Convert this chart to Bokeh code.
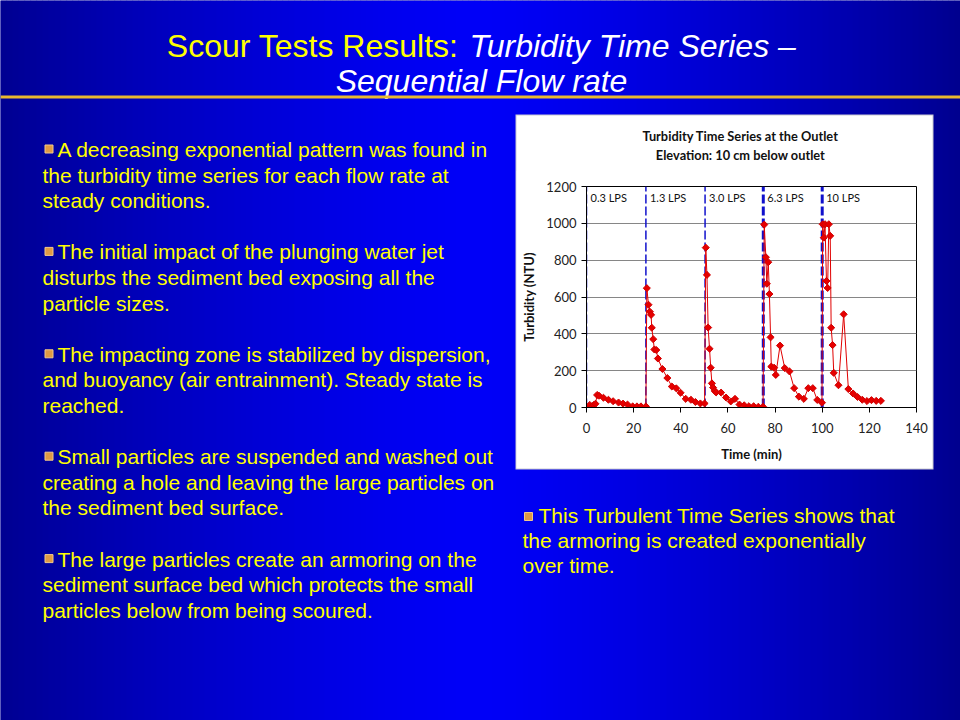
import numpy as np
from bokeh.plotting import figure
from bokeh.models import Range1d
from bokeh.embed import file_html
from bokeh.resources import INLINE
from bokeh.core.properties import value

# ---------------- data ----------------
time_min = [0, 1.4, 2.4, 3.1, 3.8, 4.5, 5.3, 7.2, 9.3, 11.3, 13.6, 15.5, 17.4, 19.6, 21.4, 23.1, 25.2,
            25.6, 26.3, 26.9, 27.4, 27.7, 28.3, 28.8, 29.6, 30.3, 32.2, 34.3, 36.2, 38.1, 39.9, 42.1, 44.3, 46.2, 48.3, 50.1,
            50.6, 51.1, 51.6, 52.2, 52.7, 53.2, 53.7, 54.4, 55.0, 57.1, 59.2, 61.2, 63.0, 64.9, 66.9, 68.9, 70.9, 72.9, 74.9,
            75.4, 76.1, 76.5, 77.1, 77.6, 78.1, 78.4, 79.6, 80.3, 82.1, 84.1, 86.1, 88.1, 90.1, 92.2, 94.1, 96.0, 97.9, 99.9,
            100.2, 100.7, 101.2, 101.8, 102.3, 102.8, 103.4, 103.8, 104.4, 104.9, 106.9, 109.1, 111.1, 113.1, 115.0, 117.0,
            119.0, 120.9, 122.9, 124.9]
turbidity_ntu = [3, 14, 6, 14, 20, 68, 64, 53, 42, 34, 27, 21, 16, 6, 6, 6, 6,
                 648, 558, 520, 503, 433, 371, 315, 312, 266, 209, 160, 114, 104, 80, 47, 42, 30, 22, 22,
                 868, 720, 434, 319, 216, 131, 108, 90, 82, 81, 54, 33, 47, 16, 12, 7, 7, 4, 4,
                 993, 816, 672, 789, 616, 381, 222, 216, 177, 336, 214, 196, 105, 59, 47, 105, 105, 41, 26,
                 995, 922, 995, 687, 649, 995, 932, 433, 339, 188, 121, 506, 100, 76, 57, 42,
                 35, 40, 36, 36]
flow_start_min = [0, 25.2, 50.3, 75.0, 100.0]
flow_labels = ["0.3 LPS", "1.3 LPS", "3.0 LPS", "6.3 LPS", "10 LPS"]
x_ticks = [0, 20, 40, 60, 80, 100, 120, 140]
y_ticks = [0, 200, 400, 600, 800, 1000, 1200]

chart_title_1 = "Turbidity Time Series at the Outlet"
chart_title_2 = "Elevation: 10 cm below outlet"
x_label = "Time (min)"
y_label = "Turbidity (NTU)"

slide_title_a = "Scour Tests Results:"
slide_title_b = "Turbidity Time Series \u2013"
slide_title_c = "Sequential Flow rate"

left_paragraphs = [
    ["A decreasing exponential pattern was found in",
     "the turbidity time series for each flow rate at",
     "steady conditions."],
    ["The initial impact of the plunging water jet",
     "disturbs the sediment bed exposing all the",
     "particle sizes."],
    ["The impacting zone is stabilized by dispersion,",
     "and buoyancy (air entrainment). Steady state is",
     "reached."],
    ["Small particles are suspended and washed out",
     "creating a hole and leaving the large particles on",
     "the sediment bed surface."],
    ["The large particles create an armoring on the",
     "sediment surface bed which protects the small",
     "particles below from being scoured."],
]
right_paragraph = ["This Turbulent Time Series shows that",
                   "the armoring is created exponentially",
                   "over time."]

# ---------------- slide (background + text) ----------------
W, H = 960, 720
slide = figure(width=W, height=H, x_range=Range1d(0, W), y_range=Range1d(H, 0),
               x_axis_type=None, y_axis_type=None, output_backend="svg",
               toolbar_location=None, min_border=0)
slide.grid.visible = False
slide.outline_line_color = None
slide.background_fill_color = "#00009A"
slide.border_fill_color = "#00009A"

# horizontal gradient background
n = 160
edges = np.linspace(0, W, n + 1)
mid = (edges[:-1] + edges[1:]) / 2
t = np.clip(np.abs(mid - 475) / 485, 0, 1)
blue = (248 - 105 * t ** 1.4).astype(int)
cols = ["#%02x%02x%02x" % (0, 0, b) for b in blue]
slide.quad(left=edges[:-1], right=edges[1:] + 0.6, top=0, bottom=H, fill_color=cols, line_color=None)

FONT = value("Liberation Sans")
slide.text(x=[458], y=[45], text=[slide_title_a], text_color="#FFFF00", text_font=FONT,
           text_font_size="32px", text_align="right", text_baseline="alphabetic")
slide.text(x=[469], y=[45], text=[slide_title_b], text_color="#FFFFFF", text_font=FONT,
           text_font_size="32px", text_font_style="italic", text_align="left", text_baseline="alphabetic")
slide.text(x=[481], y=[80], text=[slide_title_c], text_color="#FFFFFF", text_font=FONT,
           text_font_size="32px", text_font_style="italic", text_align="center", text_baseline="alphabetic")
slide.segment(x0=[0], y0=[96.5], x1=[W], y1=[96.5], line_color="#E8B830", line_width=3)

# text columns
lx, ly, ltxt, bx, by = [], [], [], [], []
k = 0
for para in left_paragraphs:
    for j, line in enumerate(para):
        base = 156 + 25.6 * k
        if j == 0:
            lx.append(57)
            bx.append(48.5)
            by.append(base - 7.5)
        else:
            lx.append(42)
        ly.append(base - 7)
        ltxt.append(line)
        k += 1
    k += 1
for j, line in enumerate(right_paragraph):
    base = 522 + 25.2 * j
    if j == 0:
        lx.append(538)
        bx.append(528)
        by.append(base - 6)
    else:
        lx.append(522)
    ly.append(base - 7)
    ltxt.append(line)

slide.rect(x=bx, y=by, width=8, height=8, fill_color="#DF9A45", line_color="#F2C98A", line_width=1)
slide.text(x=lx, y=ly, text=ltxt, text_color="#FFFF00", text_font=FONT, text_font_size="21px",
           text_align="left", text_baseline="alphabetic")

# chart box (border + white card) and the chart's two-line title
slide.quad(left=[515], right=[933], top=[114], bottom=[469], fill_color="#C8C8D0", line_color=None)
slide.quad(left=[516], right=[932], top=[115], bottom=[468], fill_color="white", line_color=None)
slide.text(x=[740, 740], y=[135, 154], text=[chart_title_1, chart_title_2], text_align="center",
           text_baseline="middle", text_font=value("Lato"), text_font_size="12.8px",
           text_font_style="bold", text_color="#111111")

# ---------------- chart ----------------
CF = value("Lato")
chart = figure(width=416, height=298, x_range=Range1d(0, 140), y_range=Range1d(0, 1200),
               output_backend="svg", toolbar_location=None,
               min_border_left=70, min_border_right=16, min_border_top=16, min_border_bottom=61,
               background_fill_color="white", border_fill_color="white")
chart.outline_line_color = "black"
chart.outline_line_width = 1
chart.xgrid.grid_line_color = None
chart.ygrid.grid_line_color = "#868686"
chart.xaxis.ticker = x_ticks
chart.yaxis.ticker = y_ticks
for ax in (chart.xaxis[0], chart.yaxis[0]):
    ax.axis_line_color = "black"
    ax.major_tick_line_color = "black"
    ax.major_tick_out = 5
    ax.major_tick_in = 0
    ax.minor_tick_line_color = None
    ax.major_label_text_font = "Lato"
    ax.major_label_text_font_size = "13px"
    ax.major_label_text_color = "#222222"
    ax.axis_label_text_font = "Lato"
    ax.axis_label_text_font_size = "13px"
    ax.axis_label_text_font_style = "bold"
    ax.axis_label_text_color = "#111111"
chart.xaxis.axis_label = x_label
chart.yaxis.axis_label = y_label
chart.xaxis.major_label_standoff = 10
chart.yaxis.major_label_standoff = 5
chart.xaxis.axis_label_standoff = 10
chart.yaxis.axis_label_standoff = 6

widths = [1.5, 1.5, 1.5, 3, 3]
chart.segment(x0=flow_start_min, y0=0, x1=flow_start_min, y1=1200, line_color="#1010CC",
              line_width=widths, line_dash="9 3")
chart.text(x=flow_start_min, y=[1140] * 5, text=flow_labels, x_offset=4, text_baseline="middle",
           text_font=CF, text_font_size="11px", text_color="#111111")

chart.line(time_min, turbidity_ntu, line_color="#E00000", line_width=1)
chart.scatter(time_min, turbidity_ntu, marker="square", angle=np.pi / 4, size=5,
              fill_color="#E60000", line_color="#D00000", line_width=1)

chart.styles = {"position": "absolute", "left": "516px", "top": "170px"}

html = file_html([slide, chart], INLINE)
html = html.replace("<head>", "<head><style>html, body {margin:0; padding:0; overflow:hidden;}</style>", 1)
open("out.html", "w").write(html)
